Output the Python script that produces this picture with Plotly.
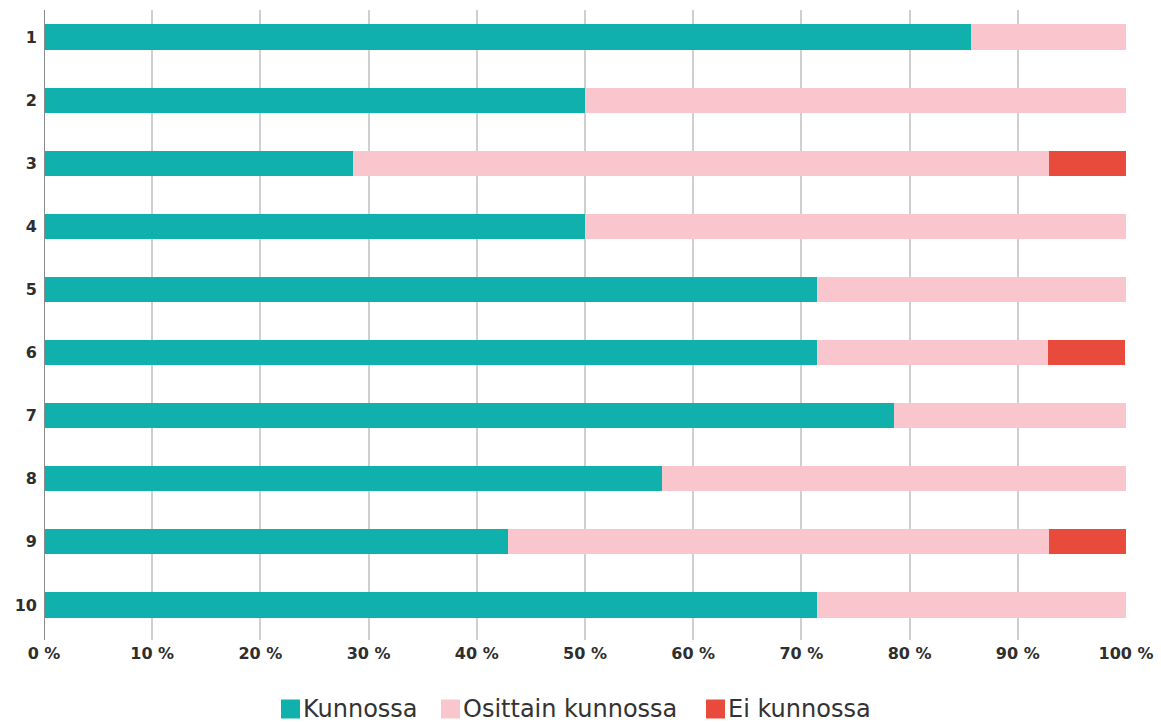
import plotly.graph_objects as go

categories = ["1", "2", "3", "4", "5", "6", "7", "8", "9", "10"]
kunnossa = [85.7, 50.0, 28.6, 50.0, 71.4, 71.4, 78.6, 57.1, 42.9, 71.4]
osittain = [14.3, 50.0, 64.3, 50.0, 28.6, 21.4, 21.4, 42.9, 50.0, 28.6]
ei_kunnossa = [0.0, 0.0, 7.1, 0.0, 0.0, 7.1, 0.0, 0.0, 7.1, 0.0]
tick_vals = [0, 10, 20, 30, 40, 50, 60, 70, 80, 90, 100]
tick_text = [f"{v} %" for v in tick_vals]

series_names = ["Kunnossa", "Osittain kunnossa", "Ei kunnossa"]
series_values = [kunnossa, osittain, ei_kunnossa]
series_colors = ["#10B1AD", "#F8C6CC", "#E84A3C"]

W, H = 1161, 722
ML, MR, MT, MB = 44, 35, 10, 82
PW, PH = W - ML - MR, H - MT - MB

fig = go.Figure()
for name, vals, color in zip(series_names, series_values, series_colors):
    fig.add_trace(go.Bar(
        y=categories, x=vals, name=name, orientation="h",
        marker=dict(color=color, line=dict(width=0)),
        width=0.40, showlegend=False,
    ))

# compact legend drawn below the plot (swatch + label)
legend_px = [281, 441, 706]   # left edge of each swatch, in pixels
legend_py = 709               # vertical centre, in pixels
sw = 19
shapes = [dict(type="line", xref="x", yref="paper", x0=0, x1=0, y0=0, y1=1,
               line=dict(color="#8a8a8a", width=2))]
annotations = []
for px, name, color in zip(legend_px, series_names, series_colors):
    x0 = (px - ML) / PW
    x1 = (px + sw - ML) / PW
    ytop = (MT + PH - (legend_py - sw / 2)) / PH
    ybot = (MT + PH - (legend_py + sw / 2)) / PH
    shapes.append(dict(type="rect", xref="paper", yref="paper",
                       x0=x0, x1=x1, y0=ybot, y1=ytop,
                       fillcolor=color, line=dict(width=0)))
    annotations.append(dict(
        xref="paper", yref="paper", x=(px + sw + 1 - ML) / PW,
        y=(MT + PH - legend_py) / PH, xanchor="left", yanchor="middle",
        text=name, showarrow=False,
        font=dict(size=24, family="DejaVu Sans", color="#333333"),
    ))

tickfont = dict(size=16, family="DejaVu Sans", weight="bold", color="#2e2e2e")

fig.update_layout(
    width=W, height=H,
    barmode="stack",
    margin=dict(l=ML, r=MR, t=MT, b=MB),
    plot_bgcolor="white", paper_bgcolor="white",
    font=dict(family="DejaVu Sans", color="#2e2e2e"),
    showlegend=False,
    xaxis=dict(
        range=[0, 100], tickvals=tick_vals, ticktext=tick_text,
        showgrid=True, gridcolor="#cfcfcf", gridwidth=2,
        zeroline=False, showline=False, automargin=False,
        tickfont=tickfont, ticks="", ticklabelstandoff=2,
    ),
    yaxis=dict(
        categoryorder="array", categoryarray=categories,
        range=[9.555, -0.428], automargin=False,
        showgrid=False, zeroline=False,
        tickfont=tickfont, ticks="", ticklabelstandoff=6,
    ),
    shapes=shapes,
    annotations=annotations,
)

fig.write_html("out.html")
